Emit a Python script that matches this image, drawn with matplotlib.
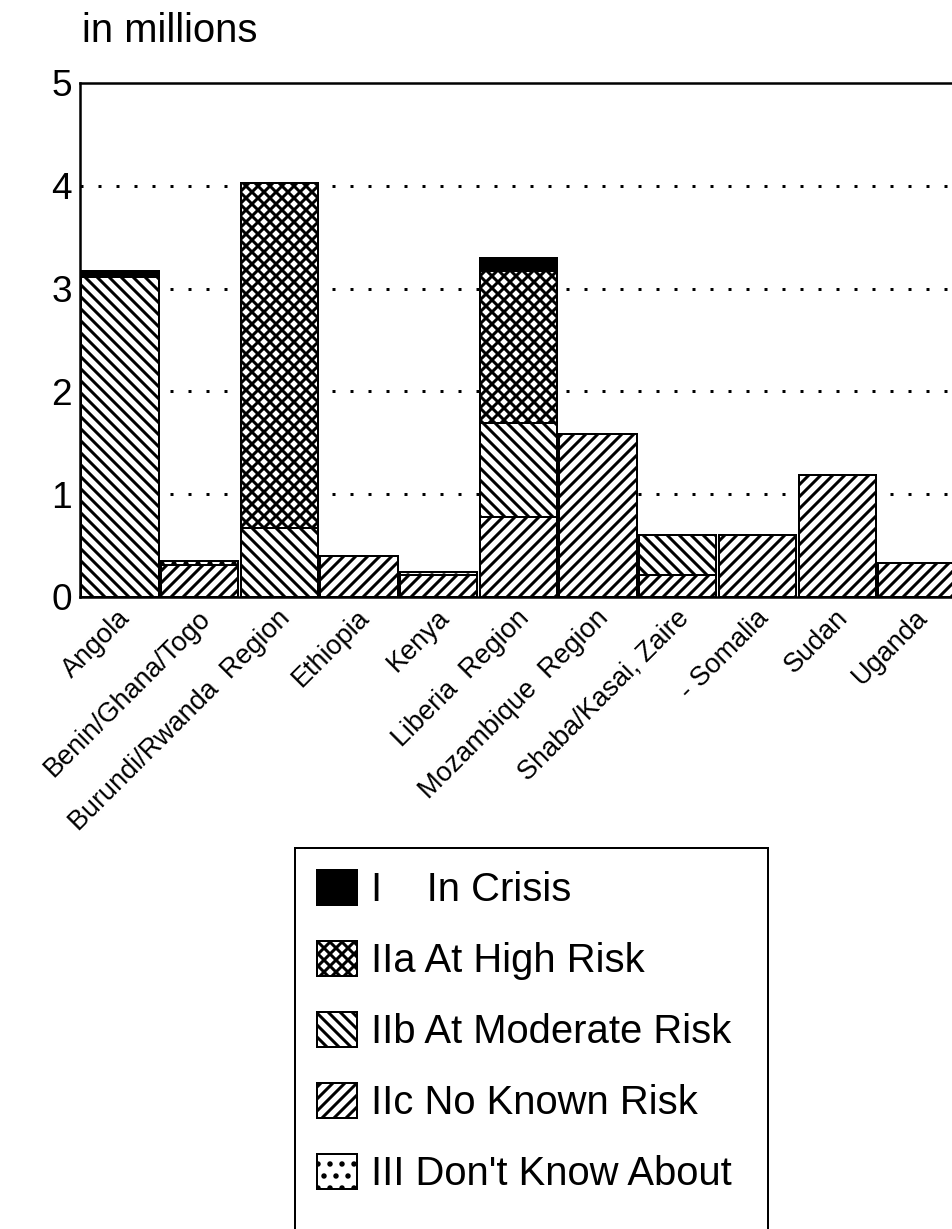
import matplotlib
matplotlib.use("Agg")
from matplotlib import pyplot as plt
from matplotlib.patches import Patch, Rectangle
import matplotlib.transforms as mtransforms
import numpy as np

# values in millions
countries = ["Angola", "Benin/Ghana/Togo", "Burundi/Rwanda  Region", "Ethiopia",
             "Kenya", "Liberia  Region", "Mozambique  Region",
             "Shaba/Kasai, Zaire", "- Somalia", "Sudan", "Uganda"]
no_known = [0, 0.31, 0, 0.40, 0.21, 0.78, 1.59, 0.21, 0.60, 1.19, 0.33]
moderate = [3.11, 0, 0.67, 0, 0, 0.91, 0, 0.39, 0, 0, 0]
high = [0, 0, 3.36, 0, 0, 1.48, 0, 0, 0, 0, 0]
crisis = [0.06, 0, 0, 0, 0, 0.13, 0, 0, 0, 0, 0]
dont_know = [0, 0.04, 0, 0, 0.03, 0, 0, 0, 0, 0, 0]

series = [
    ("IIc No Known Risk", no_known, "white", "//"),
    ("IIb At Moderate Risk", moderate, "white", "\\\\"),
    ("IIa At High Risk", high, "white", "xx"),
    ("I    In Crisis", crisis, "black", None),
    ("III Don't Know About", dont_know, "white", "."),
]
legend_order = [3, 2, 1, 0, 4]

plt.rcParams['font.family'] = ['Liberation Sans', 'DejaVu Sans']
plt.rcParams['hatch.linewidth'] = 3.0
plt.rcParams['hatch.color'] = 'black'

dpi = 72
fig = plt.figure(figsize=(952 / dpi, 1229 / dpi), dpi=dpi)
ax = fig.add_axes([80 / 952, 1 - 597 / 1229, 1 - 80 / 952, (597 - 83) / 1229])

x = np.arange(len(countries))
bottom = np.zeros(len(countries))
for name, vals, fc, hatch in series:
    vals = np.array(vals)
    ax.bar(x, vals, width=0.97, bottom=bottom, color=fc, edgecolor='black',
           linewidth=2, hatch=hatch, zorder=3)
    bottom += vals

ax.set_xlim(-0.5, 10.44)
ax.set_ylim(0, 5)
ax.set_yticks([0, 1, 2, 3, 4, 5])
ax.set_yticklabels(["0", "1", "2", "3", "4", "5"], fontsize=37)
ax.tick_params(axis='y', length=0, pad=8)
ax.tick_params(axis='x', length=0, pad=8)
for yv in [1, 2, 3, 4]:
    ax.axhline(yv, color='black', linewidth=3, linestyle=(0, (1, 5)), zorder=1)

for s in ['left', 'top', 'bottom']:
    ax.spines[s].set_linewidth(2.5)
ax.spines['right'].set_visible(False)

ax.set_xticks(x)
ax.set_xticklabels(countries, rotation=45, ha='right', va='top', fontsize=27)
shift = mtransforms.ScaledTranslation(16 / 72, 0, fig.dpi_scale_trans)
for lab in ax.get_xticklabels():
    lab.set_transform(lab.get_transform() + shift)

fig.text(82 / 952, 1 - 42 / 1229, "in millions", fontsize=40, va='baseline')

handles = []
labels = []
for i in legend_order:
    name, vals, fc, hatch = series[i]
    handles.append(Patch(facecolor=fc, edgecolor='black', hatch=hatch, linewidth=2))
    labels.append(name)
fig.legend(handles, labels, loc='upper left', bbox_to_anchor=(295 / 952, 1 - 848 / 1229),
           fontsize=40, frameon=False,
           handlelength=1.0, handleheight=0.95, handletextpad=0.35, labelspacing=0.8,
           borderpad=0.55, borderaxespad=0)
# legend box runs past the bottom edge of the page
fig.patches.append(Rectangle((295 / 952, -0.02), (768 - 295) / 952, 0.02 + (1229 - 848) / 1229,
                             transform=fig.transFigure, fill=False, edgecolor='black',
                             linewidth=2))

fig.savefig("out.png", dpi=dpi)
